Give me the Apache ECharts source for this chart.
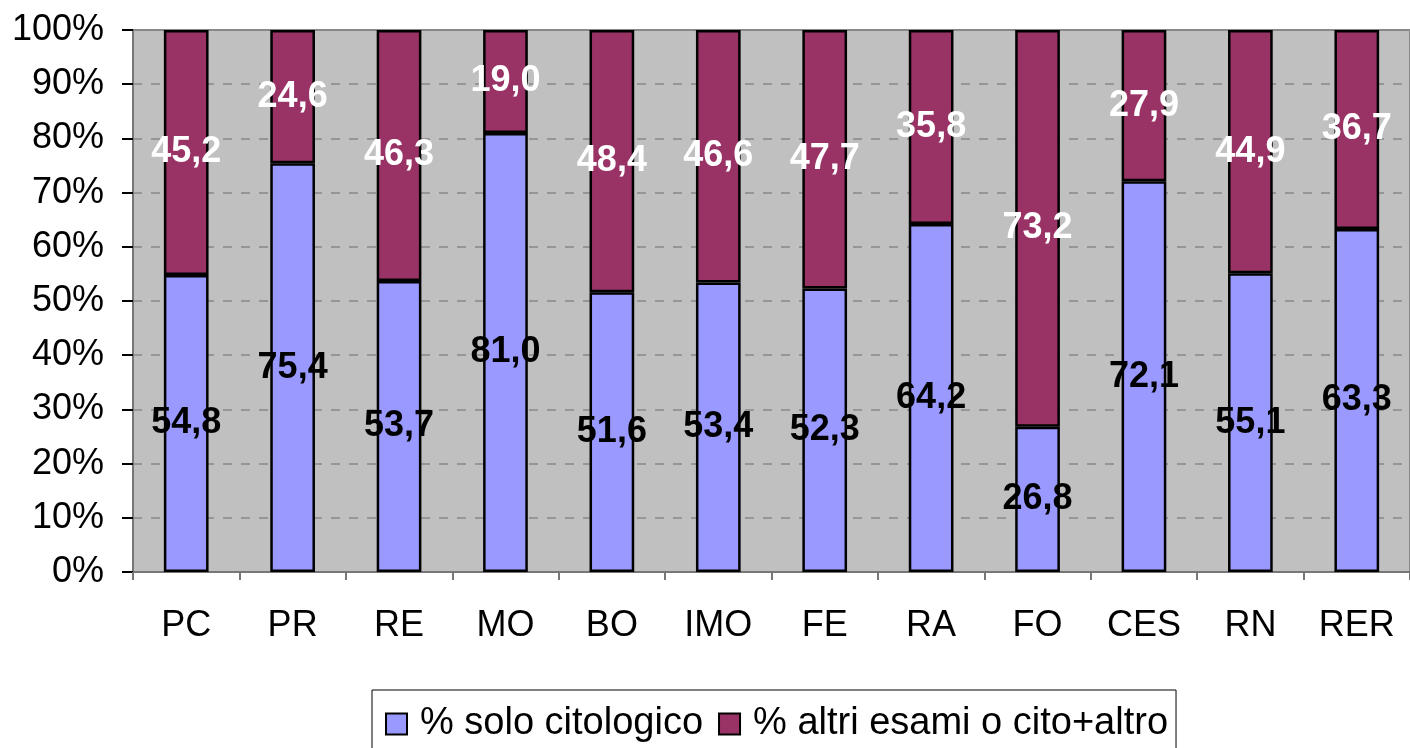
<!DOCTYPE html>
<html><head><meta charset="utf-8">
<script src="https://cdn.jsdelivr.net/npm/echarts@6/dist/echarts.min.js"></script>
<style>html,body{margin:0;padding:0;background:#fff}#c{width:1410px;height:748px}</style>
</head><body><div id="c"></div>
<script>
const categories = ['PC','PR','RE','MO','BO','IMO','FE','RA','FO','CES','RN','RER'];
const soloCitologico = [54.8,75.4,53.7,81.0,51.6,53.4,52.3,64.2,26.8,72.1,55.1,63.3];
const altriEsami = [45.2,24.6,46.3,19.0,48.4,46.6,47.7,35.8,73.2,27.9,44.9,36.7];
const seriesNames = ['% solo citologico','% altri esami o cito+altro'];

const fmt = p => p.value.toFixed(1).replace('.', ',');
const font = '"Liberation Sans", Arial, sans-serif';
const chart = echarts.init(document.getElementById('c'));
chart.setOption({
  animation: false,
  grid: {left: 133, right: -8, top: 30, bottom: 176, show: true, backgroundColor: '#C0C0C0', borderColor: '#888', borderWidth: 2},
  legend: {
    top: 690, left: 372,
    padding: [15, 8, 30, 13],
    borderColor: '#000', borderWidth: 1,
    icon: 'rect',
    itemWidth: 21, itemHeight: 21, itemGap: 15,
    textStyle: {fontFamily: font, fontSize: 38, lineHeight: 38, color: '#000', padding: [0,0,0,8]},
    itemStyle: {borderColor: '#000', borderWidth: 2},
    data: seriesNames
  },
  xAxis: {
    type: 'category', data: categories,
    axisLine: {lineStyle: {color: '#777', width: 2}},
    axisTick: {show: true, length: 8, lineStyle: {color: '#777', width: 2}},
    axisLabel: {fontFamily: font, fontSize: 36, color: '#000', margin: 36}
  },
  yAxis: {
    type: 'value', min: 0, max: 100, interval: 10,
    axisLine: {show: true, lineStyle: {color: '#777', width: 2}},
    axisTick: {show: true, length: 11, lineStyle: {color: '#000', width: 2}},
    axisLabel: {fontFamily: font, fontSize: 36, color: '#000', margin: 29, formatter: '{value}%'},
    splitLine: {lineStyle: {color: '#888', type: [9, 9], width: 1.5}}
  },
  series: [
    {
      name: seriesNames[0], type: 'bar', stack: 't', data: soloCitologico,
      barWidth: '42%',
      itemStyle: {color: '#9999FF', borderColor: '#000', borderWidth: 2.5},
      label: {show: true, position: 'inside', formatter: fmt, fontFamily: font, fontSize: 36, fontWeight: 'bold', color: '#000'}
    },
    {
      name: seriesNames[1], type: 'bar', stack: 't', data: altriEsami,
      barWidth: '42%',
      itemStyle: {color: '#993366', borderColor: '#000', borderWidth: 2.5},
      label: {show: true, position: 'inside', formatter: fmt, fontFamily: font, fontSize: 36, fontWeight: 'bold', color: '#fff'}
    }
  ]
});
</script></body></html>
